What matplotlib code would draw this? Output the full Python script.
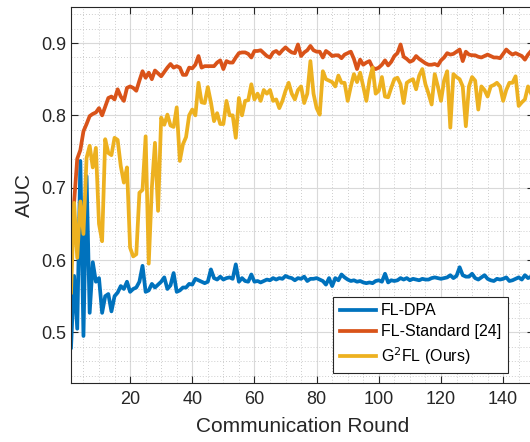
import matplotlib
matplotlib.use("Agg")
import matplotlib.pyplot as plt
from matplotlib.ticker import MultipleLocator
import numpy as np

plt.rcParams['font.family'] = ['Liberation Sans', 'DejaVu Sans']

# -------------------------------------------------------------
# Data (rounds 1..150)
# -------------------------------------------------------------
rounds = np.arange(1, 151)

fl_dpa = [
    0.479, 0.578, 0.505, 0.737, 0.495, 0.716, 0.527, 0.597, 0.570, 0.575,
    0.527, 0.550, 0.553, 0.529, 0.550, 0.555, 0.564, 0.560, 0.570, 0.556,
    0.560, 0.562, 0.570, 0.592, 0.556, 0.558, 0.567, 0.562, 0.566, 0.570,
    0.576, 0.560, 0.565, 0.582, 0.556, 0.558, 0.562, 0.562, 0.567, 0.566,
    0.574, 0.572, 0.570, 0.568, 0.570, 0.587, 0.575, 0.573, 0.577, 0.573,
    0.575, 0.576, 0.574, 0.594, 0.570, 0.575, 0.571, 0.570, 0.580, 0.570,
    0.571, 0.569, 0.571, 0.573, 0.572, 0.575, 0.573, 0.575, 0.574, 0.578,
    0.576, 0.575, 0.572, 0.575, 0.574, 0.577, 0.571, 0.574, 0.574, 0.575,
    0.573, 0.571, 0.566, 0.575, 0.564, 0.575, 0.572, 0.580, 0.576, 0.573,
    0.571, 0.572, 0.570, 0.571, 0.569, 0.568, 0.569, 0.568, 0.571, 0.572,
    0.570, 0.581, 0.569, 0.572, 0.571, 0.572, 0.575, 0.573, 0.575, 0.572,
    0.574, 0.573, 0.572, 0.574, 0.573, 0.573, 0.575, 0.576, 0.575, 0.574,
    0.575, 0.576, 0.579, 0.575, 0.578, 0.590, 0.579, 0.577, 0.577, 0.581,
    0.575, 0.573, 0.576, 0.579, 0.574, 0.572, 0.571, 0.574, 0.573, 0.574,
    0.576, 0.571, 0.572, 0.574, 0.576, 0.573, 0.579, 0.575, 0.577, 0.576,
]

fl_standard = [
    0.600, 0.680, 0.740, 0.752, 0.778, 0.788, 0.799, 0.802, 0.804, 0.810,
    0.800, 0.812, 0.824, 0.826, 0.822, 0.836, 0.826, 0.820, 0.838, 0.840,
    0.838, 0.834, 0.848, 0.861, 0.852, 0.859, 0.850, 0.862, 0.858, 0.854,
    0.860, 0.866, 0.871, 0.866, 0.868, 0.866, 0.856, 0.856, 0.866, 0.865,
    0.870, 0.882, 0.866, 0.868, 0.868, 0.868, 0.868, 0.873, 0.876, 0.864,
    0.875, 0.873, 0.873, 0.880, 0.886, 0.887, 0.887, 0.885, 0.880, 0.889,
    0.889, 0.890, 0.886, 0.882, 0.880, 0.887, 0.889, 0.885, 0.890, 0.894,
    0.890, 0.887, 0.886, 0.898, 0.882, 0.887, 0.890, 0.896, 0.890, 0.888,
    0.888, 0.880, 0.889, 0.886, 0.882, 0.883, 0.883, 0.879, 0.884, 0.886,
    0.888, 0.878, 0.864, 0.877, 0.870, 0.873, 0.875, 0.866, 0.864, 0.866,
    0.870, 0.876, 0.869, 0.874, 0.882, 0.886, 0.898, 0.881, 0.878, 0.874,
    0.876, 0.882, 0.878, 0.875, 0.872, 0.870, 0.870, 0.871, 0.869, 0.876,
    0.880, 0.886, 0.884, 0.885, 0.888, 0.891, 0.875, 0.888, 0.884, 0.883,
    0.883, 0.881, 0.880, 0.882, 0.884, 0.882, 0.880, 0.880, 0.879, 0.885,
    0.891, 0.887, 0.884, 0.886, 0.884, 0.882, 0.877, 0.884, 0.889, 0.886,
]

g2fl = [
    0.555, 0.679, 0.603, 0.681, 0.636, 0.741, 0.758, 0.728, 0.755, 0.650,
    0.626, 0.767, 0.748, 0.745, 0.769, 0.766, 0.730, 0.707, 0.728, 0.617,
    0.605, 0.608, 0.693, 0.697, 0.771, 0.595, 0.700, 0.762, 0.668, 0.797,
    0.787, 0.801, 0.786, 0.784, 0.811, 0.737, 0.760, 0.770, 0.800, 0.808,
    0.800, 0.845, 0.818, 0.817, 0.839, 0.818, 0.792, 0.803, 0.788, 0.788,
    0.820, 0.800, 0.800, 0.769, 0.824, 0.800, 0.820, 0.821, 0.843, 0.822,
    0.830, 0.820, 0.835, 0.830, 0.835, 0.820, 0.822, 0.810, 0.820, 0.834,
    0.845, 0.830, 0.822, 0.835, 0.840, 0.817, 0.830, 0.875, 0.830, 0.810,
    0.801, 0.861, 0.850, 0.848, 0.846, 0.840, 0.855, 0.845, 0.845, 0.820,
    0.840, 0.857, 0.846, 0.859, 0.840, 0.820, 0.849, 0.866, 0.830, 0.834,
    0.853, 0.826, 0.825, 0.838, 0.850, 0.852, 0.843, 0.817, 0.845, 0.848,
    0.850, 0.836, 0.855, 0.864, 0.843, 0.830, 0.815, 0.857, 0.840, 0.820,
    0.848, 0.861, 0.783, 0.857, 0.853, 0.850, 0.840, 0.785, 0.840, 0.853,
    0.848, 0.808, 0.840, 0.835, 0.826, 0.840, 0.842, 0.845, 0.840, 0.820,
    0.835, 0.845, 0.845, 0.854, 0.813, 0.818, 0.822, 0.840, 0.830, 0.828,
]

labels = ["FL-DPA", "FL-Standard [24]", "G$^2$FL (Ours)"]
colors = ["#0072BD", "#D95319", "#EDB120"]

# -------------------------------------------------------------
# Plot
# -------------------------------------------------------------
fig = plt.figure(figsize=(5.30, 4.42), dpi=100)
# right edge of the axes runs just past the figure, as in the cropped original
ax = fig.add_axes([0.134, 0.1335, 0.874, 0.851])

for y, lab, c in zip([fl_dpa, fl_standard, g2fl], labels, colors):
    ax.plot(rounds, y, color=c, lw=2.7, label=lab)

ax.set_xlim(1, 150)
ax.set_ylim(0.43, 0.95)
ax.xaxis.set_major_locator(MultipleLocator(20))
ax.xaxis.set_minor_locator(MultipleLocator(5))
ax.yaxis.set_major_locator(MultipleLocator(0.1))
ax.yaxis.set_minor_locator(MultipleLocator(0.02))

ax.grid(True, which="major", color="#d9d9d9", lw=0.8, ls="-")
ax.grid(True, which="minor", color="#bdbdbd", lw=0.6, ls=(0, (1, 2.5)))
ax.set_axisbelow(True)

for s in ax.spines.values():
    s.set_color("#262626")
    s.set_linewidth(0.8)

ax.tick_params(which="both", direction="in", top=True, right=True,
               colors="#262626", labelsize=13)
ax.tick_params(which="major", length=5)
ax.tick_params(axis="x", which="major", pad=6)
ax.tick_params(which="minor", length=0)

ax.set_xlabel("Communication Round", fontsize=15, color="#262626", labelpad=6)
ax.set_ylabel("AUC", fontsize=15, color="#262626", labelpad=5)

leg = ax.legend(loc="upper left", bbox_to_anchor=(0.566, 0.229), fontsize=11.5,
                fancybox=False, framealpha=1, edgecolor="#262626",
                handlelength=2.3, handletextpad=0.3, borderpad=0.4,
                labelspacing=0.38, borderaxespad=0)
leg.get_frame().set_linewidth(0.8)

fig.savefig("out.png", dpi=100)
